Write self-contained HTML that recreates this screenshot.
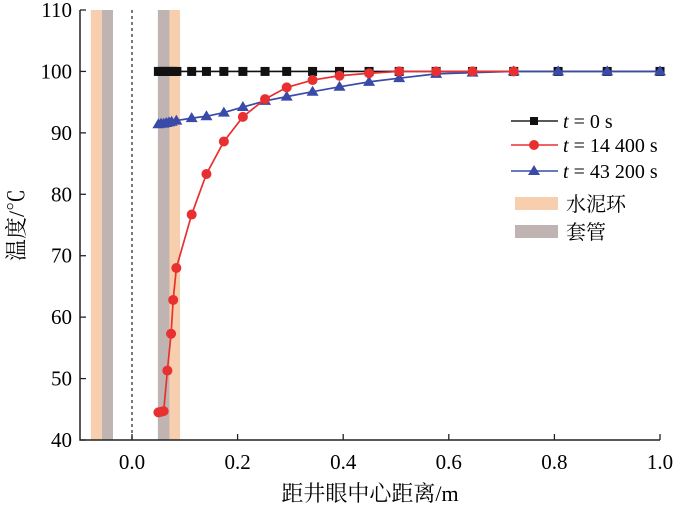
<!DOCTYPE html>
<html><head><meta charset="utf-8"><style>
html,body{margin:0;padding:0;background:#fff}
svg text{font-family:"Liberation Serif","Noto Serif CJK SC",serif;font-size:20px;fill:#000}
.tick{font-size:21px}
.title{font-size:22px}
</style></head><body>
<svg id="chart" width="700" height="508" viewBox="0 0 700 508">
<g id="bands"></g>
<line x1="132" y1="10" x2="132" y2="440" stroke="#333" stroke-width="1.3" stroke-dasharray="3,3"/>
<g id="series"></g>
<g id="axes"></g>
<g>
 <g><line x1="511" y1="121" x2="558" y2="121" stroke="#222" stroke-width="1.5"/><rect x="530" y="117" width="8" height="8" fill="#111"/><text x="563" y="128"><tspan font-style="italic">t</tspan> = 0 s</text></g>
 <g><line x1="511" y1="145" x2="558" y2="145" stroke="#e83030" stroke-width="1.5"/><circle cx="534" cy="145" r="5" fill="#e83030"/><text x="563" y="152"><tspan font-style="italic">t</tspan> = 14 400 s</text></g>
 <g><line x1="511" y1="171" x2="558" y2="171" stroke="#3a4aa8" stroke-width="1.5"/><path d="M534,165 L540,175 L528,175Z" fill="#3a4aa8"/><text x="563" y="178"><tspan font-style="italic">t</tspan> = 43 200 s</text></g>
 <g><rect x="515" y="197" width="43" height="13" fill="#f8cfae"/><text x="566" y="211">水泥环</text></g>
 <g><rect x="515" y="225" width="43" height="13" fill="#c0b4b2"/><text x="566" y="239">套管</text></g>
</g>
<text class="title" x="370" y="501" text-anchor="middle">距井眼中心距离/m</text>
<text class="title" transform="translate(24,225) rotate(-90)" text-anchor="middle">温度/℃</text>
</svg>
<script>
const xTicks=[0.0,0.2,0.4,0.6,0.8,1.0];
const yTicks=[40,50,60,70,80,90,100,110];
const bandCement=[[-0.078,-0.057],[0.071,0.091]];
const bandCasing=[[-0.057,-0.036],[0.049,0.071]];
const x0=[0.05,0.055,0.06,0.065,0.07,0.075,0.08,0.085,0.113,0.141,0.174,0.21,0.252,0.293,0.342,0.393,0.449,0.506,0.576,0.645,0.723,0.807,0.9,1.0];
const y0=[100,100,100,100,100,100,100,100,100,100,100,100,100,100,100,100,100,100,100,100,100,100,100,100];
const x1=[0.05,0.055,0.06,0.067,0.074,0.078,0.084,0.113,0.141,0.174,0.21,0.252,0.293,0.342,0.393,0.449,0.506,0.576,0.645,0.723];
const y1=[44.5,44.6,44.7,51.3,57.3,62.8,68.0,76.7,83.3,88.6,92.6,95.5,97.4,98.6,99.3,99.7,100,100,100,100];
const x2=[0.05,0.055,0.06,0.065,0.07,0.075,0.084,0.113,0.141,0.174,0.21,0.252,0.293,0.342,0.393,0.449,0.506,0.576,0.645,0.723,0.807,0.9,1.0];
const y2=[91.4,91.5,91.5,91.6,91.7,91.8,92.0,92.4,92.7,93.3,94.2,95.2,95.9,96.7,97.5,98.3,98.9,99.6,99.8,100,100,100,100];
const NS='http://www.w3.org/2000/svg';
const X=v=>132+v*528, Y=v=>10+(110-v)*6.143;
function mk(t,a,p){const e=document.createElementNS(NS,t);for(const k in a)e.setAttribute(k,a[k]);p.appendChild(e);return e;}
const bands=document.getElementById('bands');
bandCement.forEach(b=>{const r=mk('rect',{x:X(b[0]),y:10,width:X(b[1])-X(b[0]),height:430,fill:'#f8cfae'},bands);

});
bandCasing.forEach(b=>{const r=mk('rect',{x:X(b[0]),y:10,width:X(b[1])-X(b[0]),height:430,fill:'#c0b4b2'},bands);

});
const axes=document.getElementById('axes');
mk('path',{d:'M80,10 L80,440 L660,440',fill:'none',stroke:'#222','stroke-width':1.5},axes);
yTicks.forEach(v=>{mk('line',{x1:80,y1:Y(v),x2:86,y2:Y(v),stroke:'#222','stroke-width':1.3},axes);
const t=mk('text',{x:72,y:Y(v)+7,'text-anchor':'end','class':'tick'},axes);t.textContent=v;

});
xTicks.forEach(v=>{mk('line',{x1:X(v),y1:440,x2:X(v),y2:434,stroke:'#222','stroke-width':1.3},axes);
const t=mk('text',{x:X(v),y:469,'text-anchor':'middle','class':'tick'},axes);t.textContent=v.toFixed(1);

});
const sg=document.getElementById('series');
function series(xs,ys,col,shape,name){const g=mk('g',{},sg);


mk('polyline',{points:xs.map((x,i)=>X(x)+','+Y(ys[i])).join(' '),fill:'none',stroke:col,'stroke-width':1.7},g);
xs.forEach((x,i)=>{const cx=X(x),cy=Y(ys[i]);let m;
if(shape==='sq')m=mk('rect',{x:cx-4.5,y:cy-4.5,width:9,height:9,fill:col},g);
else if(shape==='c')m=mk('circle',{cx:cx,cy:cy,r:5,fill:col},g);
else m=mk('path',{d:`M${cx},${cy-6} L${cx+6},${cy+4} L${cx-6},${cy+4}Z`,fill:col},g);

});}
series(x0,y0,'#111','sq','series-t0');
series(x2,y2,'#3a4aa8','tri','series-t43200');
series(x1,y1,'#e83030','c','series-t14400');
</script>
</body></html>
